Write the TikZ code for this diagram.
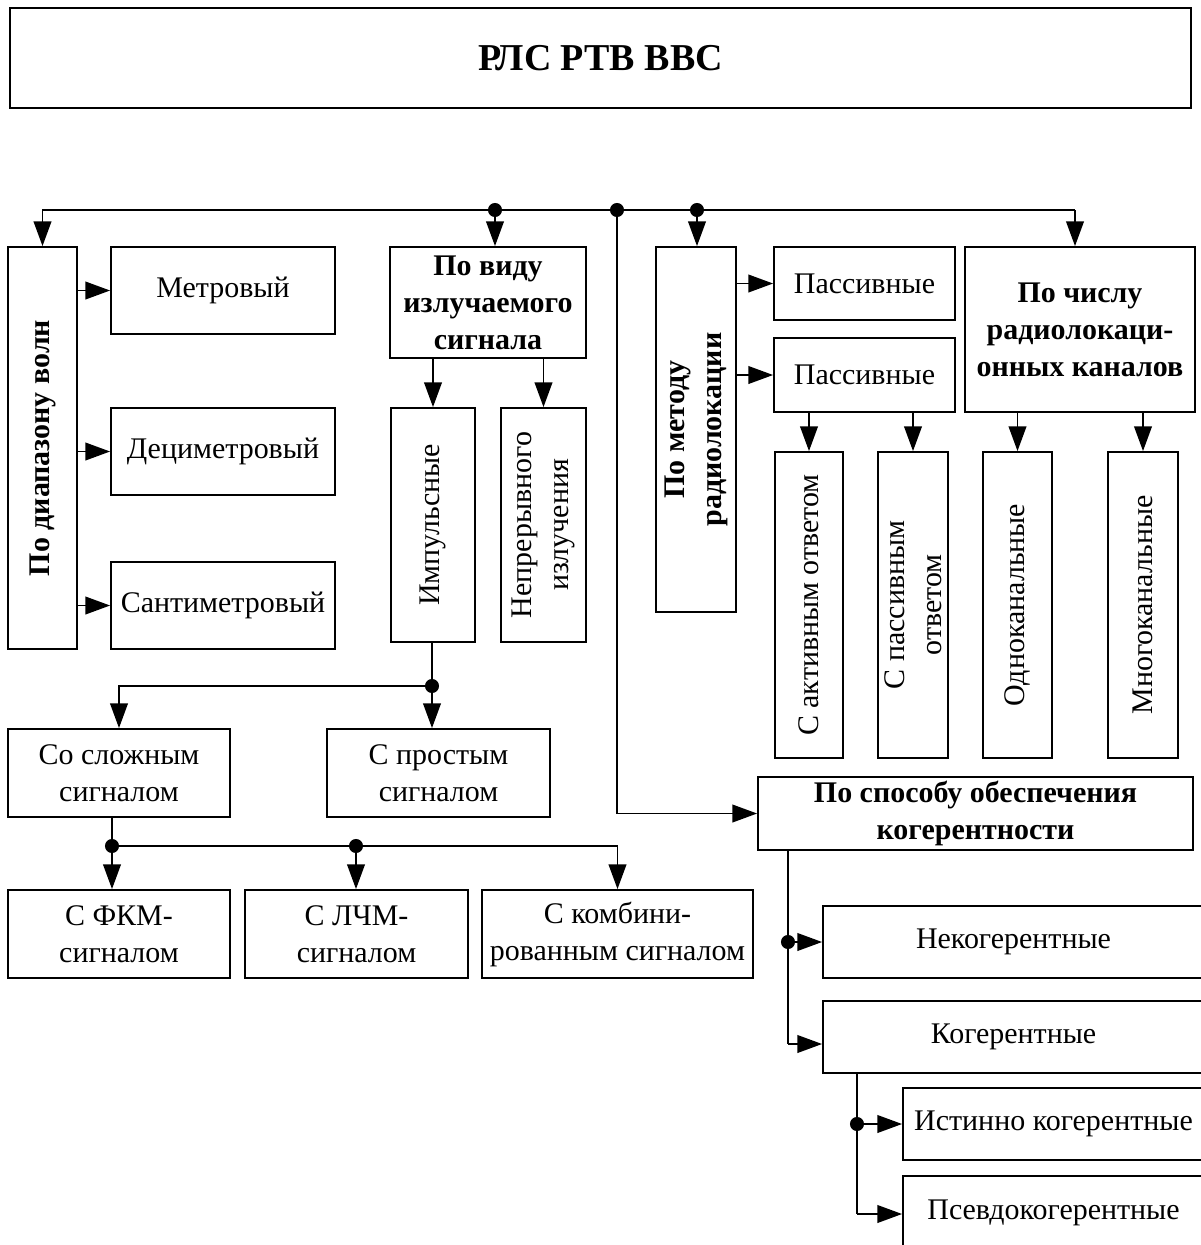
\documentclass[tikz,border=0pt]{standalone}
\usepackage{fontspec}
\setmainfont{Liberation Serif}
\usepackage{tikz}
\usetikzlibrary{positioning, fit, calc}
\usetikzlibrary{arrows.meta}
\tikzset{myarrow/.style={-{Triangle[length=17.5pt, width=12.5pt]}}}
\tikzset{blok/.style={inner sep=0pt, draw}}
\tikzset{nadpis/.style={align=center, font=\fontsize{21.3}{26.3}\selectfont}}
\tikzset{zagolovok/.style={align=center, font=\fontsize{21.3}{26.3}\selectfont\bfseries}}

\begin{document}
\begin{tikzpicture}[x=0.025cm, y=-0.025cm, line width=1.3pt]
		\clip (0,0) rectangle (1201,1245);
		
		\node[fit={(10,8) (1191,108)}, blok] (rls) {};
		\node[font=\fontsize{27}{32}\selectfont\bfseries] (rlsText) at (rls) {РЛС РТВ ВВС};
		
		% ПО ДИАПАЗОНУ ВОЛН
		\node[fit={(8,247) (77,649)}, blok] (diap) {};
		\node[zagolovok, rotate=90] (diapText) at (diap) {По диапазону волн};
		\node[fit={(111,247) (335,334)}, blok] (metr) {};
		\node[nadpis] (metrText) at (metr) {Метровый};
		\node[fit={(111,408) (335,495)}, blok] (decim) {};
		\node[nadpis] (decimText) at (decim) {Дециметровый};
		\node[fit={(111,562) (335,649)}, blok] (santi) {};
		\node[nadpis] (santiText) at (santi) {Сантиметровый};
		
		% ПО ВИДУ ИЗЛУЧАЕМОГО СИГНАЛА
		\node[fit={(390,247) (586,358)}, blok] (vid) {};
		\node[zagolovok] (vidText) at (vid) {По виду\\излучаемого\\сигнала};
		\node[fit={(391,408) (475,642)}, blok] (imp) {};
		\node[nadpis, rotate=90] (impText) at (imp) {Импульсные};
		\node[fit={(501,408) (586,642)}, blok] (nepr) {};
		\node[nadpis, rotate=90] (neprText) at (nepr) {Непрерывного\\излучения};
		\node[fit={(8,729) (230,817)}, blok] (slozh) {};
		\node[nadpis] (slozhText) at (slozh) {Со сложным\\сигналом};
		\node[fit={(327,729) (550,817)}, blok] (prost) {};
		\node[nadpis] (prostText) at (prost) {С простым\\сигналом};
		\node[fit={(8,890) (230,978)}, blok] (fkm) {};
		\node[nadpis] (fkmText) at (fkm) {С ФКМ-\\сигналом};
		\node[fit={(245,890) (468,978)}, blok] (lchm) {};
		\node[nadpis] (lchmText) at (lchm) {С ЛЧМ-\\сигналом};
		\node[fit={(482,890) (753,978)}, blok] (komb) {};
		\node[nadpis] (kombText) at (komb) {С комбини-\\рованным сигналом};
		
		% ПО МЕТОДУ РАДИОЛОКАЦИИ
		\node[fit={(656,247) (736,612)}, blok] (metod) {};
		\node[zagolovok, rotate=90] (metodText) at (metod) {По методу\\радиолокации};
		\node[fit={(774,247) (955,320)}, blok] (pass1) {};
		\node[nadpis] (pass1Text) at (pass1) {Пассивные};
		\node[fit={(774,338) (955,412)}, blok] (pass2) {};
		\node[nadpis] (pass2Text) at (pass2) {Пассивные};
		\node[fit={(775,452) (843,758)}, blok] (aktiv) {};
		\node[nadpis, rotate=90] (aktivText) at (aktiv) {С активным ответом};
		\node[fit={(878,452) (948,758)}, blok] (passotv) {};
		\node[nadpis, rotate=90] (passotvText) at (passotv) {С пассивным\\ответом};
		
		% ПО ЧИСЛУ КАНАЛОВ
		\node[fit={(965,247) (1195,412)}, blok] (chislo) {};
		\node[zagolovok] (chisloText) at (chislo) {По числу\\радиолокаци-\\онных каналов};
		\node[fit={(983,452) (1052,758)}, blok] (odno) {};
		\node[nadpis, rotate=90] (odnoText) at (odno) {Одноканальные};
		\node[fit={(1108,452) (1178,758)}, blok] (mnogo) {};
		\node[nadpis, rotate=90] (mnogoText) at (mnogo) {Многоканальные};
		
		% ПО СПОСОБУ ОБЕСПЕЧЕНИЯ КОГЕРЕНТНОСТИ
		\node[fit={(758,777) (1193,850)}, blok] (sposob) {};
		\node[zagolovok] (sposobText) at (sposob) {По способу обеспечения\\когерентности};
		\node[fit={(823,906) (1204,978)}, blok] (nekog) {};
		\node[nadpis] (nekogText) at (nekog) {Некогерентные};
		\node[fit={(823,1001) (1204,1073)}, blok] (kog) {};
		\node[nadpis] (kogText) at (kog) {Когерентные};
		\node[fit={(903,1088) (1204,1160)}, blok] (istin) {};
		\node[nadpis] (istinText) at (istin) {Истинно когерентные};
		\node[fit={(903,1176) (1204,1250)}, blok] (psevdo) {};
		\node[nadpis] (psevdoText) at (psevdo) {Псевдокогерентные};
		
		% УЗЛЫ
		\coordinate (j1) at (495,210);
		\coordinate (j2) at (617,210);
		\coordinate (j3) at (697,210);
		\coordinate (k3) at (1075,210);
		\coordinate (j4) at (432,686);
		\coordinate (j5) at (112,846);
		\coordinate (j6) at (356,846);
		\coordinate (j7) at (788,942);
		\coordinate (k7) at (788,1044);
		\coordinate (j8) at (857,1124);
		\coordinate (k8) at (857,1214);
		\foreach \j in {j1,j2,j3,j4,j5,j6,j7,j8} {
			\fill (\j) circle (5pt);
		}
		
		\draw (j1) -- (k3);
		\draw[myarrow] (j1) -| (diap.north);
		\draw[myarrow] (j1) -- (j1 |- vid.north);
		\draw[myarrow] (j3) -- (j3 |- metod.north);
		\draw[myarrow] (k3) -- (k3 |- chislo.north);
		\draw[myarrow] (j2) |- (sposob.west);
		
		\draw[myarrow] (diap.east |- metr) -- (metr.west);
		\draw[myarrow] (diap.east |- decim) -- (decim.west);
		\draw[myarrow] (diap.east |- santi) -- (santi.west);
		
		\draw[myarrow] (imp.north |- vid.south) -- (imp.north);
		\draw[myarrow] (nepr.north |- vid.south) -- (nepr.north);
		\draw (j4 |- imp.south) -- (j4);
		\draw[myarrow] (j4) -- (j4 |- prost.north);
		\draw[myarrow] (j4) -| (slozh.north);
		
		\draw (j5 |- slozh.south) -- (j5);
		\draw (j5) -- (j6);
		\draw[myarrow] (j5) -- (j5 |- fkm.north);
		\draw[myarrow] (j6) -- (j6 |- lchm.north);
		\draw[myarrow] (j6) -| (komb.north);
		
		\draw[myarrow] (metod.east |- pass1) -- (pass1.west);
		\draw[myarrow] (metod.east |- pass2) -- (pass2.west);
		\draw[myarrow] (aktiv.north |- pass2.south) -- (aktiv.north);
		\draw[myarrow] (passotv.north |- pass2.south) -- (passotv.north);
		\draw[myarrow] (odno.north |- chislo.south) -- (odno.north);
		\draw[myarrow] (mnogo.north |- chislo.south) -- (mnogo.north);
		
		\draw (j7 |- sposob.south) -- (k7);
		\draw[myarrow] (j7) -- (j7 -| nekog.west);
		\draw[myarrow] (k7) -- (k7 -| kog.west);
		\draw (j8 |- kog.south) -- (k8);
		\draw[myarrow] (j8) -- (j8 -| istin.west);
		\draw[myarrow] (k8) -- (k8 -| psevdo.west);
		
	\end{tikzpicture}
\end{document}
